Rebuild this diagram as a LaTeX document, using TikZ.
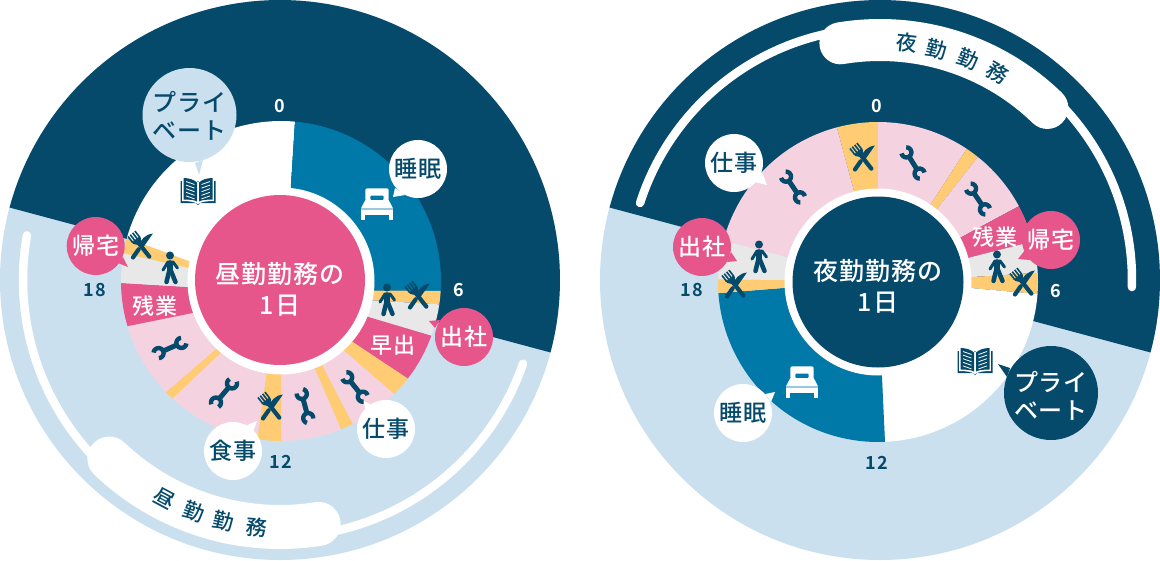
\documentclass[tikz,border=0pt]{standalone}
\usepackage{fontspec}
\setmainfont{Noto Sans CJK JP Medium}
\newfontfamily\spacedjp[LetterSpace=4]{Noto Sans CJK JP Medium}
\newfontfamily\numfont[LetterSpace=10]{Noto Sans CJK JP Bold}
\definecolor{navy}{HTML}{054A6B}
\definecolor{sky}{HTML}{CBE0EF}
\definecolor{teal}{HTML}{0079A8}
\definecolor{rose}{HTML}{E6568B}
\definecolor{blush}{HTML}{F5D2E0}
\definecolor{honey}{HTML}{FFCC73}
\definecolor{mist}{HTML}{E8E8E8}
\newcommand{\sect}[5]{\fill[#1] plot[domain=#3:#5,samples=40,variable=\t] ({\cx+160*sin(\t)},{\cy-160*cos(\t)}) -- plot[domain=#4:#2,samples=40,variable=\t] ({\cx+93*sin(\t)},{\cy-93*cos(\t)}) -- cycle;}
\newcommand{\rimarc}[4]{\draw[white,line width=#4,line cap=round] plot[domain=#2:#3,samples=120,variable=\t] ({\cx+#1*sin(\t)},{\cy-#1*cos(\t)});}
\newcommand{\jp}[1]{\fontsize{#1}{#1}\selectfont}
\tikzset{
 bub/.style={circle,inner sep=0pt,minimum size=58pt,align=center,font=\spacedjp\jp{23}},
 bigbub/.style={circle,inner sep=0pt,minimum size=94pt,align=center,font=\spacedjp\jp{24}},
 hubtext/.style={inner sep=0pt,align=center,text=white,font=\spacedjp\jp{25}},
 seclabel/.style={inner sep=0pt,text=white,font=\spacedjp\jp{22}},
 hournum/.style={inner sep=0pt,font=\numfont\jp{18}},
 bandchar/.style={inner sep=0pt,text=navy,font=\jp{21}},
 wrench/.pic={
  \draw[navy,line width=5] (0,-8) -- (0,8);
  \draw[navy,line width=4.4] plot[domain=30:290,samples=20,variable=\t] ({5*sin(\t)},{-12.5-5*cos(\t)});
  \draw[navy,line width=4.4] plot[domain=70:330,samples=20,variable=\t] ({5*sin(\t)},{12.5+5*cos(\t)});
 },
 forkknife/.pic={
  \begin{scope}[rotate=38]
   \draw[navy,line width=4.2,line cap=round] (0,-6) -- (0,13.5);
   \fill[navy] (-5.2,-8.5) -- (5.2,-8.5) .. controls (5.2,-5) and (2,-4) .. (2,-3) -- (-2,-3) .. controls (-2,-4) and (-5.2,-5) .. (-5.2,-8.5) -- cycle;
   \foreach \q in {-4.4,-1.5,1.5,4.4}{\draw[navy,line width=1.6] (\q,-8) -- (\q,-15.5);}
  \end{scope}
  \begin{scope}[rotate=-35]
   \draw[navy,line width=4.2,line cap=round] (0,4) -- (0,14);
   \fill[navy] (2.6,1) -- (2.6,-17) .. controls (-3.4,-12) and (-3.4,-5) .. (-2.6,1) -- cycle;
  \end{scope}
 },
 walker/.pic={
  \fill[navy] (0,-12.5) circle[radius=4];
  \draw[navy,line width=6.5,line cap=round] (0,-4.5) -- (0,2);
  \draw[navy,line width=3,line cap=round,line join=round] (-7,2) -- (-2,-6) -- (3,-6) -- (7.5,0);
  \draw[navy,line width=4.5,line cap=round] (-0.8,3) -- (-3.5,14);
  \draw[navy,line width=4.5,line cap=round] (1,3) -- (5.5,14);
 },
 bedicon/.pic={
  \fill[white,rounded corners=2] (-11.7,-16.7) rectangle (11.7,-4);
  \fill[teal,rounded corners=1] (-6.7,-9.5) rectangle (6.7,-5);
  \fill[white] (-11.7,-5) -- (11.7,-5) -- (16,3.3) -- (-16,3.3) -- cycle;
  \fill[white!60!teal] (-16,3.3) rectangle (16,5);
  \fill[white] (-16,5) rectangle (16,10);
  \fill[white] (-16,10) rectangle (-11.7,15);
  \fill[white] (11.7,10) rectangle (16,15);
 },
 bookicon/.pic={
  \fill[navy] (-17.5,-10) -- (-17.5,12) -- (-2,12) -- (0,14) -- (2,12) -- (17.5,12) -- (17.5,-10) -- cycle;
  \fill[white] (-15.8,-14) .. controls (-8,-14) and (-3,-12) .. (0,-9) .. controls (3,-12) and (8,-14) .. (15.8,-14) -- (15.8,10) .. controls (8,10) and (3,11) .. (0,13) .. controls (-3,11) and (-8,10) .. (-15.8,10) -- cycle;
  \foreach \s in {1,-1}{
   \begin{scope}[xscale=\s]
    \fill[navy] (-14.5,-13) .. controls (-8,-13) and (-4,-11) .. (-1,-8.5) -- (-1,10.5) .. controls (-4,9) and (-8,8.5) .. (-14.5,8.5) -- cycle;
    \foreach \i in {0,1,2,3,4}{\draw[white,line width=.8] (-12,{-9.5+\i*3.6}) -- (-3.5,{-6.5+\i*3.6});}
   \end{scope}
  }
 }
}
\begin{document}
\begin{tikzpicture}[x=1pt,y=-1pt]
\useasboundingbox (0,0) rectangle (1160,560);
\fill[white] (0,0) rectangle (1160,560);
%%%%%%%%%%%%% LEFT discs
\def\cx{280}\def\cy{280}
\fill[sky] (\cx,\cy) circle[radius=280];
\fill[navy] plot[domain=-75:105,samples=90,variable=\t] ({\cx+280*sin(\t)},{\cy-280*cos(\t)}) -- cycle;
\rimarc{257}{-80}{-251}{8.5}
\rimarc{247}{-136.3}{-189}{44}
%%%%%%%%%%%%% RIGHT discs
\def\cx{880}\def\cy{280}
\fill[sky] (\cx,\cy) circle[radius=280];
\fill[navy] plot[domain=-75:105,samples=90,variable=\t] ({\cx+280*sin(\t)},{\cy-280*cos(\t)}) -- cycle;
\rimarc{252}{-72.2}{91.6}{8.5}
\rimarc{240}{-9.5}{44.2}{42}
%%%%%%%%%%%%% LEFT ring
\def\cx{281}\def\cy{281}
\sect{white}{282}{285.6}{366}{365}
\sect{teal}{6}{5}{96}{93.5}
\sect{honey}{96}{93.5}{102}{98.4}
\sect{mist}{102}{98.4}{112.5}{110}
\sect{rose}{112.5}{110}{130.5}{127.6}
\sect{honey}{130.5}{127.6}{138}{135}
\sect{blush}{138}{135}{154}{153.4}
\sect{honey}{154}{153.4}{159}{158}
\sect{blush}{159}{158}{180}{180}
\sect{honey}{180}{180}{189}{188.6}
\sect{blush}{189}{188.6}{220}{222.7}
\sect{honey}{220}{222.7}{223.7}{226}
\sect{blush}{223.7}{226}{250}{253.6}
\sect{rose}{250}{253.6}{266.3}{269.3}
\sect{mist}{266.3}{269.3}{278}{280}
\sect{honey}{278}{280}{282}{285.6}
\fill[white] (\cx,\cy) circle[radius=93.5];
\node[circle,fill=rose,minimum size=170pt,inner sep=0pt] (hubL) at (280,280) {};
\node[hubtext] (hubLa) at (280,274) {昼勤勤務の};
\node[hubtext] (hubLb) at (280,306) {1日};
%%%%%%%%%%%%% RIGHT ring
\def\cx{878}\def\cy{282}
\sect{honey}{345.2}{345.1}{360}{360}
\sect{blush}{0}{0}{34.2}{33.7}
\sect{honey}{34.2}{33.7}{38.9}{38.6}
\sect{blush}{38.9}{38.6}{61.7}{61.7}
\sect{rose}{61.7}{61.7}{75}{75.3}
\sect{mist}{75}{75.3}{87}{86.7}
\sect{honey}{87}{86.7}{93.7}{94.3}
\sect{white}{93.7}{94.3}{177.6}{177.5}
\sect{teal}{177.6}{177.5}{266.4}{266}
\sect{honey}{266.4}{266}{271.2}{271}
\sect{mist}{271.2}{271}{285.4}{285}
\sect{blush}{285.4}{285}{345.2}{345.1}
\fill[white] (\cx,\cy) circle[radius=93.5];
\node[circle,fill=navy,minimum size=171pt,inner sep=0pt] (hubR) at (878,282) {};
\node[hubtext] (hubRa) at (878,271) {夜勤勤務の};
\node[hubtext] (hubRb) at (878,303) {1日};
%%%%%%%%%%%%% icons
\foreach \nm/\px/\py/\rt in {wa/170/348/-66,wb/224/393/-40,wc/305/406/15,wd/355/387/39,we/793/187/34,wf/913/163/32,wg/978/199/34}{
 \pic[rotate=\rt] (\nm) at (\px,\py) {wrench};
}
\foreach \nm/\px/\py in {fa/141/246,fb/418/296,fc/271/407,fd/863/158,fe/735/285,ff/1023/283}{
 \pic (\nm) at (\px,\py) {forkknife};
}
\foreach \nm/\px/\py in {pa/387/300,pb/170/268,pc/759/257,pd/997/267}{
 \pic (\nm) at (\px,\py) {walker};
}
\pic (beda) at (377,205) {bedicon};
\pic (bedb) at (802,383) {bedicon};
\pic (booka) at (198,191) {bookicon};
\pic (bookb) at (975,361) {bookicon};
%%%%%%%%%%%%% section labels
\node[seclabel] (zanL) at (155,306) {残業};
\node[seclabel] (hayaL) at (393,345) {早出};
\node[seclabel] (zanR) at (995,237) {残業};
%%%%%%%%%%%%% bubble tails
\fill[sky] (195,163) -- (199,175) -- (203,160) -- cycle;
\fill[rose] (118,263) -- (128,267) -- (123,257) -- cycle;
\fill[white] (395,188) -- (393,197) -- (405,195) -- cycle;
\fill[rose] (440,320) -- (429,321) -- (435,328) -- cycle;
\fill[white] (365,410) -- (364,401) -- (372,405) -- cycle;
\fill[white] (247,425) -- (257,421) -- (253,432) -- cycle;
\fill[white] (755,182) -- (767,185) -- (762,172) -- cycle;
\fill[rose] (727,262) -- (737,261) -- (731,252) -- cycle;
\fill[white] (765,394) -- (775,392) -- (771,402) -- cycle;
\fill[navy] (1010,368) -- (998,364) -- (1007,377) -- cycle;
\fill[rose] (1030,260) -- (1018,259) -- (1025,250) -- cycle;
%%%%%%%%%%%%% bubbles
\node[bigbub,fill=sky] (privL) at (189.5,115) {};
\node[inner sep=0pt,align=center,text=navy,font=\spacedjp\jp{24}] (privLt) at (189.5,116) {プライ\\[4pt]ベート};
\node[bub,fill=rose,text=white] (kitakuL) at (95.7,246) {帰宅};
\node[bub,fill=white,text=navy] (suiL) at (418,169) {睡眠};
\node[bub,fill=rose,text=white] (shusL) at (464,337) {出社};
\node[bub,fill=white,text=navy] (shigL) at (386,429) {仕事};
\node[bub,fill=white,text=navy] (shokL) at (233,451) {食事};
\node[bub,fill=white,text=navy] (shigR) at (734,163) {仕事};
\node[bub,fill=rose,text=white] (shusR) at (702,247) {出社};
\node[bub,fill=white,text=navy] (suiR) at (743,413) {睡眠};
\node[bigbub,fill=navy] (privR) at (1051,393) {};
\node[inner sep=0pt,align=center,text=white,font=\spacedjp\jp{24}] (privRt) at (1051,396) {プライ\\[4pt]ベート};
\node[bub,fill=rose,text=white] (kitakuR) at (1051,240) {帰宅};
%%%%%%%%%%%%% hour numbers
\node[hournum,text=white] (nla) at (280,106) {0};
\node[hournum,text=white] (nlb) at (459,290) {6};
\node[hournum,text=navy] (nlc) at (281,462) {12};
\node[hournum,text=navy] (nld) at (95,290) {18};
\node[hournum,text=white] (nra) at (877,106) {0};
\node[hournum,text=white] (nrb) at (1056,291) {6};
\node[hournum,text=navy] (nrc) at (877,463) {12};
\node[hournum,text=navy] (nrd) at (692,290) {18};
%%%%%%%%%%%%% band texts
\node[bandchar,rotate=-28] (bla) at (164,498) {昼};
\node[bandchar,rotate=-20] (blb) at (194,512) {勤};
\node[bandchar,rotate=-13] (blc) at (224,521) {勤};
\node[bandchar,rotate=-5] (bld) at (257,527) {務};
\node[bandchar,rotate=-6.5] (bra) at (907,43) {夜};
\node[bandchar,rotate=-14] (brb) at (937,49) {勤};
\node[bandchar,rotate=-22] (brc) at (968,59) {勤};
\node[bandchar,rotate=-30] (brd) at (998,73) {務};
\end{tikzpicture}
\end{document}
